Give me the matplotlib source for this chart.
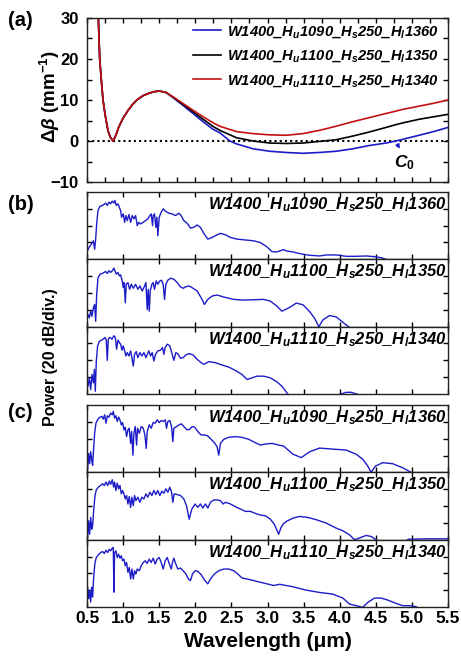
import matplotlib
matplotlib.use("Agg")
import matplotlib.pyplot as plt
import numpy as np
from matplotlib.ticker import MultipleLocator

plt.rcParams['font.family'] = ['Liberation Sans', 'DejaVu Sans']
plt.rcParams['font.weight'] = 'bold'
plt.rcParams['axes.labelweight'] = 'bold'
plt.rcParams['mathtext.fontset'] = 'custom'
plt.rcParams['mathtext.rm'] = 'Liberation Sans:bold'
plt.rcParams['mathtext.it'] = 'Liberation Sans:italic:bold'
plt.rcParams['mathtext.bf'] = 'Liberation Sans:bold'

# ---- panel (a): phase mismatch, mm^-1 ----
wl_a = [0.655, 0.676, 0.70, 0.722, 0.75, 0.79, 0.82, 0.86, 0.90, 0.94,
        1.0, 1.07, 1.13, 1.19, 1.27, 1.35, 1.42, 1.5, 1.6, 1.69,
        1.8, 1.97, 2.1, 2.25, 2.34, 2.48, 2.57, 2.8, 3.03, 3.26,
        3.49, 3.72, 3.95, 4.18, 4.41, 4.64, 4.78, 4.87, 5.1, 5.3, 5.5]
common = [31, 20, 14.5, 10, 6.5, 2.6, 1.0, 0.0, 1.4, 3.4,
          5.6, 7.5, 8.9, 10.0, 11.0, 11.6, 12.0, 12.2, 11.8]
db_1090 = common + [10.6, 9.1, 6.7, 4.8, 2.8, 2.0, 0.0, -0.7, -1.9, -2.5, -2.8,
                    -3.0, -2.8, -2.5, -1.9, -1.1, -0.5, 0.0, 0.4, 1.4, 2.3, 3.3]
db_1100 = common + [10.7, 9.3, 7.1, 5.4, 3.5, 2.6, 1.5, 0.8, 0.0, -0.5, -0.6,
                    -0.5, -0.1, 0.3, 1.2, 2.2, 3.3, 4.0, 4.4, 5.3, 5.9, 6.5]
db_1110 = common + [10.8, 9.5, 7.5, 6.0, 4.4, 3.6, 2.8, 2.3, 1.8, 1.5, 1.4,
                    1.8, 2.6, 3.6, 4.7, 5.7, 6.7, 7.3, 7.7, 8.5, 9.2, 10.0]

labels = ["W1400_H$_u$1090_H$_s$250_H$_l$1360",
          "W1400_H$_u$1100_H$_s$250_H$_l$1350",
          "W1400_H$_u$1110_H$_s$250_H$_l$1340"]

# ---- panels (b) and (c): spectra, (wavelength um, relative dB) ----
b1 = [(0.495,-72),(0.528,-66),(0.56,-62),(0.588,-58),(0.606,-68),(0.62,-56),(0.634,-38),(0.652,-22),
      (0.68,-17),(0.712,-16),(0.735,-14.8),(0.758,-13.2),(0.78,-16),(0.804,-12),(0.827,-14),(0.85,-10.8),
      (0.873,-13.2),(0.887,-10),(0.905,-16),(0.929,-14),(0.947,-18),(0.965,-22),(0.979,-30),(1.002,-26),
      (1.021,-36),(1.039,-28),(1.058,-34),(1.081,-26.8),(1.104,-36),(1.127,-28),(1.15,-32),(1.173,-28),
      (1.196,-40),(1.219,-36),(1.242,-38),(1.279,-36),(1.311,-34),(1.343,-32),(1.371,-28),(1.389,-26),
      (1.408,-40),(1.417,-28),(1.435,-26),(1.454,-42),(1.468,-30),(1.481,-52),(1.5,-30),(1.528,-24),
      (1.555,-20),(1.588,-22.8),(1.634,-25.2),(1.68,-26),(1.726,-28),(1.772,-25.2),(1.804,-28),(1.841,-34),
      (1.887,-37.2),(1.933,-42.8),(1.979,-42),(2.025,-39.2),(2.071,-42),(2.118,-49.2),(2.173,-56),(2.233,-54),
      (2.302,-50.8),(2.348,-49.2),(2.417,-50.8),(2.486,-54),(2.578,-56),(2.671,-56.8),(2.809,-58),(2.9,-60),
      (2.993,-65.2),(3.062,-70.8),(3.131,-71.2),(3.223,-68.4),(3.26,-70),(3.353,-71.2),(3.445,-73.2),(3.583,-75.2),
      (3.721,-76),(3.813,-74.8),(3.952,-74.8),(4.09,-76.4),(4.228,-76.4),(4.366,-76),(4.482,-76.8),(4.574,-78),
      (4.643,-80)]
b2 = [(0.495,-71.6),(0.514,-65.6),(0.532,-69.6),(0.551,-61.6),(0.569,-67.6),(0.588,-57.6),(0.606,-53.6),(0.62,-73.6),
      (0.634,-41.6),(0.652,-22.4),(0.68,-17.6),(0.712,-16.8),(0.735,-15.6),(0.758,-14.4),(0.78,-16.8),(0.804,-13.6),
      (0.827,-15.6),(0.85,-13.6),(0.873,-10.4),(0.887,-13.6),(0.905,-17.6),(0.929,-15.6),(0.947,-19.6),(0.965,-18.4),
      (0.988,-25.6),(1.002,-33.6),(1.016,-27.6),(1.03,-51.6),(1.044,-29.6),(1.067,-27.6),(1.09,-35.6),(1.113,-29.6),
      (1.141,-34.4),(1.173,-29.6),(1.205,-35.6),(1.233,-31.6),(1.265,-37.6),(1.288,-33.6),(1.316,-27.6),(1.334,-59.6),
      (1.348,-35.6),(1.362,-61.6),(1.376,-37.6),(1.399,-29.6),(1.417,-27.6),(1.435,-35.6),(1.459,-25.6),(1.481,-29.6),
      (1.509,-25.6),(1.532,-24.8),(1.555,-29.6),(1.574,-47.6),(1.592,-29.6),(1.62,-24.8),(1.657,-22.4),(1.703,-23.6),
      (1.749,-27.6),(1.795,-32.8),(1.832,-34.4),(1.864,-32.8),(1.91,-31.6),(1.956,-33.6),(2.025,-37.6),(2.081,-45.6),
      (2.127,-53.6),(2.173,-47.6),(2.233,-43.6),(2.302,-42.4),(2.394,-44.8),(2.532,-47.6),(2.671,-48.4),(2.809,-48),
      (2.947,-47.6),(3.039,-49.6),(3.131,-55.6),(3.2,-61.6),(3.306,-57.2),(3.399,-52),(3.491,-54),(3.583,-62),
      (3.652,-70),(3.712,-80),(3.767,-72),(3.859,-66.8),(3.952,-68.4),(4.044,-74.8),(4.136,-81)]
b3 = [(0.495,-62.8),(0.514,-70.8),(0.532,-60.8),(0.551,-74.8),(0.569,-56.8),(0.588,-66.8),(0.602,-50.8),(0.615,-76.8),
      (0.629,-40.8),(0.647,-22.8),(0.67,-17.6),(0.698,-16),(0.726,-14.8),(0.749,-12.8),(0.767,-16),(0.781,-40),
      (0.795,-14.8),(0.818,-12.8),(0.846,-14.8),(0.873,-10.8),(0.892,-12.8),(0.91,-26.8),(0.929,-16),(0.947,-18.8),
      (0.965,-20.8),(0.984,-28),(1.002,-22.8),(1.021,-28.8),(1.039,-34.8),(1.058,-30.8),(1.081,-34.8),(1.104,-28.8),
      (1.122,-36.8),(1.141,-46.8),(1.159,-32.8),(1.182,-29.6),(1.205,-36.8),(1.233,-30.8),(1.26,-34.8),(1.288,-30.8),
      (1.316,-36.8),(1.334,-32.8),(1.357,-28.8),(1.38,-34.8),(1.403,-30.8),(1.426,-40.8),(1.449,-32.8),(1.481,-28.8),
      (1.518,-28),(1.546,-24.8),(1.565,-32.8),(1.583,-24.8),(1.611,-20.8),(1.647,-22.8),(1.68,-32.8),(1.703,-40),
      (1.73,-30.8),(1.763,-32.8),(1.795,-37.6),(1.832,-36.8),(1.869,-33.6),(1.915,-32),(1.97,-33.6),(2.025,-38.8),
      (2.081,-42.8),(2.118,-44.8),(2.187,-41.6),(2.279,-42.8),(2.371,-45.6),(2.463,-48),(2.555,-52),(2.647,-56.8),
      (2.717,-62.8),(2.786,-60.8),(2.855,-58.8),(2.947,-58.8),(3.039,-60.8),(3.131,-65.6),(3.2,-70.8),(3.28,-80),
      (3.5,-90),(3.95,-85),(4.0,-80.5),(4.09,-78),(4.16,-78),(4.25,-80.5),(4.35,-88)]
c1 = [(0.495,-61.6),(0.509,-75.6),(0.523,-57.6),(0.537,-69.6),(0.551,-55.6),(0.565,-65.6),(0.578,-71.6),(0.592,-51.6),
      (0.606,-33.6),(0.624,-21.6),(0.652,-16.8),(0.68,-14.4),(0.707,-13.6),(0.726,-16.8),(0.744,-11.6),(0.763,-21.6),
      (0.781,-12.8),(0.804,-14.4),(0.827,-9.6),(0.85,-11.6),(0.864,-7.6),(0.882,-15.6),(0.901,-12.8),(0.919,-19.6),
      (0.938,-14.4),(0.956,-17.6),(0.975,-23.6),(0.993,-20.8),(1.012,-29.6),(1.03,-26.4),(1.048,-37.6),(1.067,-29.6),
      (1.085,-27.6),(1.104,-45.6),(1.118,-31.6),(1.136,-59.6),(1.15,-33.6),(1.168,-25.6),(1.187,-47.6),(1.2,-27.6),
      (1.224,-33.6),(1.251,-25.6),(1.279,-27.6),(1.302,-35.6),(1.32,-51.6),(1.334,-31.6),(1.362,-23.6),(1.389,-27.6),
      (1.417,-20.8),(1.445,-21.6),(1.472,-17.6),(1.5,-20.8),(1.528,-18.4),(1.555,-19.6),(1.583,-17.6),(1.601,-27.6),
      (1.62,-19.6),(1.647,-18.4),(1.671,-25.6),(1.689,-43.6),(1.703,-27.6),(1.74,-25.6),(1.776,-23.6),(1.809,-22.4),
      (1.841,-25.6),(1.887,-29.6),(1.924,-28.8),(1.956,-25.6),(1.993,-26.4),(2.035,-31.6),(2.081,-35.6),(2.127,-35.6),
      (2.173,-36.8),(2.219,-40.8),(2.265,-44.8),(2.302,-49.6),(2.325,-59.6),(2.348,-45.6),(2.394,-40.8),(2.463,-38.4),
      (2.555,-37.6),(2.647,-38.4),(2.74,-40.8),(2.832,-44.8),(2.901,-47.6),(2.97,-46.4),(3.062,-45.6),(3.154,-47.6),
      (3.223,-48.8),(3.353,-58.5),(3.468,-62.5),(3.583,-55.6),(3.721,-51.2),(3.905,-52.4),(4.09,-53.6),(4.228,-58.5),
      (4.32,-64.5),(4.389,-72.6),(4.435,-80),(4.495,-72.6),(4.597,-68.5),(4.735,-69.8),(4.873,-74.6),(4.988,-80)]
c2 = [(0.495,-61.6),(0.509,-77.6),(0.523,-57.6),(0.537,-73.6),(0.551,-53.6),(0.565,-67.6),(0.578,-63.6),(0.592,-45.6),
      (0.611,-27.6),(0.629,-20.8),(0.657,-17.6),(0.689,-15.6),(0.717,-13.6),(0.74,-15.6),(0.763,-11.6),(0.786,-15.6),
      (0.809,-10.4),(0.827,-14.4),(0.85,-8.8),(0.869,-17.6),(0.882,-11.6),(0.901,-21.6),(0.919,-12.8),(0.938,-19.6),
      (0.956,-15.6),(0.975,-25.6),(0.993,-21.6),(1.012,-25.6),(1.03,-31.6),(1.048,-27.6),(1.067,-37.6),(1.085,-28.8),
      (1.104,-41.6),(1.122,-29.6),(1.141,-39.6),(1.159,-27.6),(1.177,-33.6),(1.205,-29.6),(1.233,-35.6),(1.26,-29.6),
      (1.288,-31.6),(1.316,-25.6),(1.343,-29.6),(1.371,-23.6),(1.399,-27.6),(1.426,-21.6),(1.454,-26.4),(1.481,-21.6),
      (1.509,-27.6),(1.537,-22.4),(1.565,-24.8),(1.592,-19.6),(1.62,-23.6),(1.647,-17.6),(1.671,-23.6),(1.689,-35.6),
      (1.707,-25.6),(1.749,-26.4),(1.795,-27.6),(1.841,-31.6),(1.878,-39.6),(1.915,-55.6),(1.952,-43.6),(1.998,-37.6),
      (2.035,-41.6),(2.071,-37.6),(2.104,-42.4),(2.14,-37.6),(2.173,-42.4),(2.21,-35.6),(2.256,-32.8),(2.302,-32.8),
      (2.348,-33.6),(2.385,-37.6),(2.417,-35.6),(2.486,-37.6),(2.555,-40.8),(2.624,-43.6),(2.694,-46.4),(2.763,-46.4),
      (2.832,-48.8),(2.901,-50.8),(2.97,-51.6),(3.039,-55.6),(3.094,-61.6),(3.131,-68.8),(3.154,-73.6),(3.187,-65.6),
      (3.223,-60.8),(3.26,-58.3),(3.353,-54.4),(3.445,-52.4),(3.56,-53.6),(3.675,-56.3),(3.813,-60.3),(3.952,-66.3),
      (4.044,-69.4),(4.136,-74.2),(4.205,-80),(4.274,-78),(4.366,-75),(4.435,-76.2),(4.505,-80),(4.6,-86),
      (4.85,-86),(4.95,-79.5),(5.2,-79),(5.5,-79)]
c3 = [(0.495,-64.3),(0.509,-56.5),(0.523,-70.2),(0.537,-60.4),(0.551,-74.1),(0.565,-56.5),(0.578,-68.2),(0.592,-44.7),
      (0.611,-27.1),(0.629,-21.2),(0.657,-18),(0.689,-15.3),(0.717,-14.1),(0.74,-16.5),(0.763,-12.5),(0.786,-15.3),
      (0.809,-11.4),(0.827,-13.3),(0.85,-10.2),(0.864,-9.4),(0.873,-62.4),(0.882,-15.3),(0.901,-13.3),(0.919,-21.2),
      (0.938,-17.3),(0.956,-22),(0.975,-19.2),(0.993,-25.1),(1.012,-23.1),(1.03,-31),(1.048,-27.1),(1.067,-38.8),
      (1.085,-32.9),(1.104,-46.7),(1.122,-34.9),(1.141,-46.7),(1.159,-36.9),(1.177,-40.8),(1.196,-34.9),(1.224,-36.9),
      (1.251,-31),(1.279,-27.1),(1.306,-25.1),(1.334,-28.2),(1.362,-23.1),(1.389,-27.1),(1.417,-22),(1.445,-29),
      (1.472,-23.1),(1.5,-21.2),(1.528,-27.1),(1.555,-34.9),(1.583,-25.1),(1.611,-21.2),(1.638,-28.2),(1.666,-34.9),
      (1.684,-27.1),(1.703,-22),(1.73,-29),(1.758,-34.9),(1.795,-33.7),(1.832,-36.9),(1.869,-40.8),(1.906,-46.7),
      (1.933,-48.6),(1.961,-40.8),(1.998,-36.9),(2.035,-37.6),(2.081,-41.6),(2.127,-47.8),(2.173,-52.5),(2.21,-46.7),
      (2.265,-40.8),(2.325,-36.9),(2.394,-34.9),(2.463,-34.9),(2.532,-36.9),(2.588,-40.8),(2.647,-45.5),(2.717,-46.7),
      (2.809,-48.6),(2.901,-50.6),(2.993,-52.5),(3.085,-54.5),(3.168,-53),(3.353,-56),(3.537,-60),(3.721,-62.7),
      (3.905,-64.7),(4.044,-69.4),(4.136,-76.5),(4.228,-78.4),(4.32,-80.4),(4.389,-74.5),(4.482,-69.4),(4.574,-69.4),
      (4.666,-71.8),(4.781,-75.7),(4.873,-78.4),(4.965,-78.4),(5.057,-79.6),(5.1,-82)]

blue = '#1c1cc8'
red = '#c41010'

W, H = 461, 656
fig = plt.figure(figsize=(W / 100, H / 100), dpi=100)
x0, x1 = 87, 448


def px_axes(top, bottom):
    return fig.add_axes([x0 / W, 1 - bottom / H, (x1 - x0) / W, (bottom - top) / H])


def style(ax):
    ax.set_xlim(0.5, 5.5)
    ax.tick_params(which='both', direction='in', top=True, right=True,
                   length=3.5, width=1, labelsize=12.5, pad=3)
    for s in ax.spines.values():
        s.set_linewidth(1)
        s.set_color('#222222')


# (a)
ax = px_axes(18, 182)
ax.plot(wl_a, db_1090, color=blue, lw=1.2, label=labels[0])
ax.plot(wl_a, db_1100, color='black', lw=1.2, label=labels[1])
ax.plot(wl_a, db_1110, color=red, lw=1.2, label=labels[2])
ax.axhline(0, color='black', ls=(0, (1, 1.5)), lw=1.5, zorder=1)
style(ax)
ax.set_ylim(-10, 30)
ax.xaxis.set_major_locator(MultipleLocator(0.5))
ax.xaxis.set_minor_locator(MultipleLocator(0.25))
ax.yaxis.set_major_locator(MultipleLocator(10))
ax.yaxis.set_minor_locator(MultipleLocator(5))
ax.tick_params(axis='x', labelbottom=False)
ax.tick_params(axis='y', labelsize=12, pad=6)
ax.legend(loc='upper left', bbox_to_anchor=(0.294, 0.965), frameon=False,
          prop={'style': 'italic', 'weight': 'bold', 'size': 10.6},
          handlelength=1.9, handletextpad=0.4, labelspacing=0.6,
          borderpad=0, borderaxespad=0)
ax.annotate('', xy=(4.85, -2.5), xytext=(4.78, -0.2),
            arrowprops=dict(arrowstyle='-|>', color=blue, lw=1, mutation_scale=6))
ax.text(4.9, -5.4, r'$C_\mathit{0}$', ha='center', va='center', fontsize=12.5)

# (b), (c)
h = 202 / 3
spectra = [b1, b2, b3, c1, c2, c3]
tops = [192, 192 + h, 192 + 2 * h, 405, 405 + h, 405 + 2 * h]
for i, (spec, top) in enumerate(zip(spectra, tops)):
    sx = px_axes(top, top + h)
    arr = np.array(spec)
    sx.plot(arr[:, 0], arr[:, 1], color=blue, lw=1)
    style(sx)
    sx.set_ylim(-80, 0)
    sx.set_yticks([-60, -40, -20])
    sx.xaxis.set_major_locator(MultipleLocator(0.5))
    sx.tick_params(labelleft=False, labelbottom=(i == 5))
    sx.text(0.996, 0.95, labels[i % 3], transform=sx.transAxes, ha='right', va='top',
            fontsize=12, style='italic', weight='bold')
    if i == 5:
        sx.set_xlabel('Wavelength (μm)', fontsize=15, fontweight='bold', labelpad=4)

fig.text(8 / W, 1 - 21 / H, '(a)', fontsize=14.5, va='center', ha='left')
fig.text(8 / W, 1 - 205 / H, '(b)', fontsize=14.5, va='center', ha='left')
fig.text(8 / W, 1 - 412 / H, '(c)', fontsize=14.5, va='center', ha='left')
fig.text(50 / W, 1 - 97 / H, r'$\Delta\beta$ (mm$^{\mathbf{-1}}$)', fontsize=13.5,
         rotation=90, va='center', ha='center')
fig.text(50 / W, 1 - 357 / H, 'Power (20 dB/div.)', fontsize=11.5,
         rotation=90, va='center', ha='center')

fig.savefig('out.png', dpi=100)
